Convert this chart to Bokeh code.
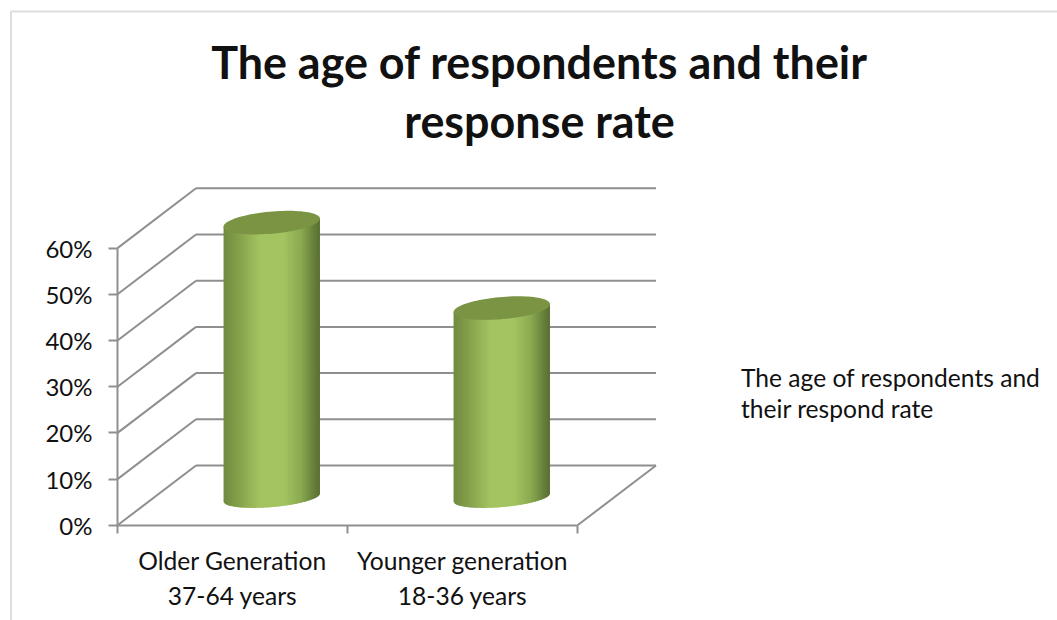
from bokeh.embed import file_html
from bokeh.models import (BoxAnnotation, ColumnDataSource, FixedTicker, Legend, LegendItem,
                          LinearAxis, PrintfTickFormatter, Range1d)
from bokeh.plotting import figure
from bokeh.resources import INLINE
from bokeh.core.properties import value
import numpy as np

# Chart data
categories = ["Older Generation\n37-64 years", "Younger generation\n18-36 years"]
response_rate = [59.5, 41.0]
y_ticks = [0, 10, 20, 30, 40, 50, 60]
chart_title = ["The age of respondents and their", "response rate"]
series_lines = ["The age of respondents and", "their respond rate"]

W, H = 1057, 620
FONT = "Lato"
GREY = "#8f8f8f"
INK = "#111111"

# Data scales: one category spans 230 px and ten percent spans 46.2 px.
X0, XS = 117.0, 230.0
Y0, YS = 524.8, 4.62
x_range = Range1d(-X0 / XS, (W - X0) / XS)
y_range = Range1d((Y0 - H) / YS, Y0 / YS)

# Oblique depth of the 3D box, in data units.
DEPTH_X = 78.5 / XS
DEPTH_Y = 59.8 / YS

p = figure(width=W, height=H, x_range=x_range, y_range=y_range, output_backend="svg",
           toolbar_location=None, min_border=0, outline_line_color=None,
           x_axis_type=None, y_axis_type=None, background_fill_color="white")
p.grid.visible = False

# Chart frame: only its top and left edges fall inside the page.
p.add_layout(BoxAnnotation(left=10.5, right=W + 40, top=H - 11, bottom=-40,
                           left_units="screen", right_units="screen",
                           top_units="screen", bottom_units="screen",
                           fill_alpha=0, line_color=GREY, line_width=2))

# Back wall gridlines, side wall diagonals and floor edge.
n_cat = len(categories)
p.segment(x0=[DEPTH_X] * len(y_ticks), x1=[n_cat + DEPTH_X] * len(y_ticks),
          y0=[t + DEPTH_Y for t in y_ticks], y1=[t + DEPTH_Y for t in y_ticks],
          line_color=GREY, line_width=2)
p.segment(x0=[0] * len(y_ticks), x1=[DEPTH_X] * len(y_ticks),
          y0=y_ticks, y1=[t + DEPTH_Y for t in y_ticks],
          line_color=GREY, line_width=2)
p.segment(x0=[n_cat], x1=[n_cat + DEPTH_X], y0=[0], y1=[DEPTH_Y],
          line_color=GREY, line_width=2)

# Value axis on the front plane.
yax = LinearAxis(fixed_location=0, bounds=(0, 60), ticker=FixedTicker(ticks=y_ticks),
                 formatter=PrintfTickFormatter(format="%d%%"),
                 axis_line_color=GREY, axis_line_width=2,
                 major_tick_line_color=GREY, major_tick_line_width=2,
                 major_tick_in=0, major_tick_out=9, minor_tick_line_color=None,
                 major_label_text_font=FONT, major_label_text_font_size="24px",
                 major_label_text_color=INK, major_label_standoff=16)
p.add_layout(yax, "left")

# Category axis: minor ticks mark the boundaries, major tick positions carry the labels.
centres = [i + 0.5 for i in range(n_cat)]
xax = LinearAxis(fixed_location=0, bounds=(0, n_cat),
                 ticker=FixedTicker(ticks=centres, minor_ticks=list(range(n_cat + 1))),
                 major_label_overrides=dict(zip(centres, categories)),
                 axis_line_color=GREY, axis_line_width=2,
                 major_tick_line_color=None,
                 minor_tick_line_color=GREY, minor_tick_line_width=2,
                 minor_tick_in=0, minor_tick_out=8,
                 major_label_text_font=FONT, major_label_text_font_size="24.6px",
                 major_label_text_color=INK, major_label_standoff=13)
p.add_layout(xax, "below")

# Cylinders: the body is a stack of narrow strips shaded across the width.
RADIUS_X = 48.2 / XS
TILT = 4.0 / YS
MINOR_TOP = 11.1 / YS
MINOR_BASE = 9.6 / YS
BASE_X = DEPTH_X / 2
BASE_Y = 27.8 / YS
STRIPS = 64
SHADE_POS = [0.0, 0.12, 0.38, 0.62, 0.80, 0.92, 1.0]
SHADE_RGB = np.array([[112, 139, 64], [128, 155, 72], [163, 196, 96], [163, 196, 96],
                      [140, 170, 82], [106, 132, 60], [88, 110, 50]], dtype=float)
CAP_COLOR = "#7a9444"


def shade(f):
    rgb = [np.interp(f, SHADE_POS, SHADE_RGB[:, k]) for k in range(3)]
    return "#%02x%02x%02x" % tuple(int(round(c)) for c in rgb)


cyl_xs, cyl_ys, cyl_colors = [], [], []
cap_xs, cap_ys = [], []
for i, v in enumerate(response_rate):
    cx = i + 0.5 + BASE_X
    base = BASE_Y
    top = BASE_Y + v
    for s in range(STRIPS):
        u0 = -1 + 2 * s / STRIPS
        u1 = min(1.0, -1 + 2 * (s + 1.6) / STRIPS)
        us = np.linspace(u0, u1, 4)
        lower = base + TILT * us - MINOR_BASE * np.sqrt(np.clip(1 - us * us, 0, 1))
        upper = top + TILT * us
        cyl_xs.append(list(cx + RADIUS_X * us) + list(cx + RADIUS_X * us[::-1]))
        cyl_ys.append(list(lower) + list(upper[::-1]))
        cyl_colors.append(shade((s + 0.5) / STRIPS))
    t = np.linspace(0, 2 * np.pi, 90)
    cap_xs.append(list(cx + RADIUS_X * np.cos(t)))
    cap_ys.append(list(top + TILT * np.cos(t) + MINOR_TOP * np.sin(t)))

p.patches(cyl_xs, cyl_ys, fill_color=cyl_colors, line_color=None)
p.patches(cap_xs, cap_ys, fill_color=CAP_COLOR, line_color=None)

# Title, two centred lines.
title_x = (539 - X0) / XS
title_src = ColumnDataSource(dict(x=[title_x, title_x],
                                  y=[(Y0 - 61) / YS, (Y0 - 120) / YS],
                                  t=chart_title))
p.text("x", "y", text="t", source=title_src, text_font=value(FONT), text_font_style="bold",
       text_font_size="44.9px", text_color=INK, text_align="center", text_baseline="middle")

# Legend: the swatch sits on the first line, the second line only continues the label.
swatch = p.quad([], [], [], [], fill_color="#a0c060", line_color=None)
blank = p.quad([], [], [], [], fill_alpha=0, line_alpha=0)
legend = Legend(items=[LegendItem(label=series_lines[0], renderers=[swatch]),
                       LegendItem(label=series_lines[1], renderers=[blank])],
                location=(719, 197), orientation="vertical", border_line_color=None,
                background_fill_alpha=0, padding=0, margin=0, spacing=2,
                glyph_width=15, glyph_height=15,
                label_text_font=FONT, label_text_font_size="24.6px",
                label_text_color=INK, label_standoff=7)
p.add_layout(legend, "center")

open("out.html", "w").write(file_html(p, INLINE))
